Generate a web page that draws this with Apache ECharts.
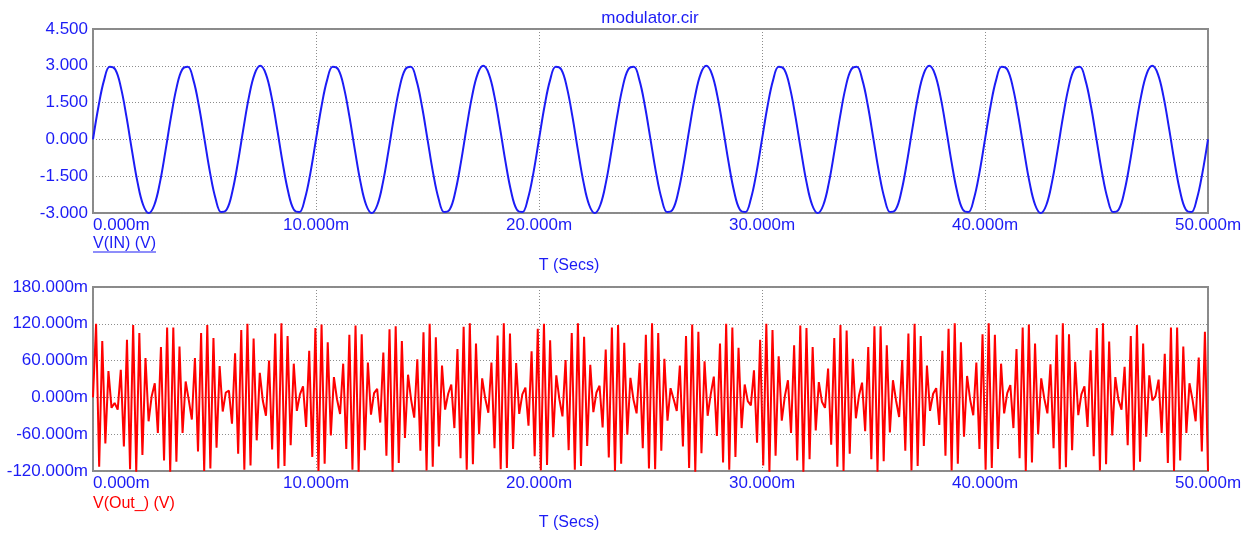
<!DOCTYPE html>
<html style="height: 100%">
<head>
    <meta charset="utf-8">
</head>
<body style="height: 100%; margin: 0; background: #fff">
    <div id="container" style="width: 1256px; height: 534px"></div>
    <script type="text/javascript" src="https://cdn.jsdelivr.net/npm/echarts@6/dist/echarts.min.js"></script>
    <script type="text/javascript">
// V(IN) sampled every 0.25 ms (volts)
var dtIn = 0.25;
var vIn = [
    0, 1.362, 2.427, 2.963, 2.853, 2.121, 0.927, -0.469, -1.763, -2.673, -3, -2.673, -1.763, -0.469, 0.927, 2.121, 2.853, 2.963, 2.427, 1.362,
    0, -1.362, -2.427, -2.963, -2.853, -2.121, -0.927, 0.469, 1.763, 2.673, 3, 2.673, 1.763, 0.469, -0.927, -2.121, -2.853, -2.963, -2.427, -1.362,
    0, 1.362, 2.427, 2.963, 2.853, 2.121, 0.927, -0.469, -1.763, -2.673, -3, -2.673, -1.763, -0.469, 0.927, 2.121, 2.853, 2.963, 2.427, 1.362,
    0, -1.362, -2.427, -2.963, -2.853, -2.121, -0.927, 0.469, 1.763, 2.673, 3, 2.673, 1.763, 0.469, -0.927, -2.121, -2.853, -2.963, -2.427, -1.362,
    0, 1.362, 2.427, 2.963, 2.853, 2.121, 0.927, -0.469, -1.763, -2.673, -3, -2.673, -1.763, -0.469, 0.927, 2.121, 2.853, 2.963, 2.427, 1.362,
    0, -1.362, -2.427, -2.963, -2.853, -2.121, -0.927, 0.469, 1.763, 2.673, 3, 2.673, 1.763, 0.469, -0.927, -2.121, -2.853, -2.963, -2.427, -1.362,
    0, 1.362, 2.427, 2.963, 2.853, 2.121, 0.927, -0.469, -1.763, -2.673, -3, -2.673, -1.763, -0.469, 0.927, 2.121, 2.853, 2.963, 2.427, 1.362,
    0, -1.362, -2.427, -2.963, -2.853, -2.121, -0.927, 0.469, 1.763, 2.673, 3, 2.673, 1.763, 0.469, -0.927, -2.121, -2.853, -2.963, -2.427, -1.362,
    0, 1.362, 2.427, 2.963, 2.853, 2.121, 0.927, -0.469, -1.763, -2.673, -3, -2.673, -1.763, -0.469, 0.927, 2.121, 2.853, 2.963, 2.427, 1.362,
    0, -1.362, -2.427, -2.963, -2.853, -2.121, -0.927, 0.469, 1.763, 2.673, 3, 2.673, 1.763, 0.469, -0.927, -2.121, -2.853, -2.963, -2.427, -1.362,
    0
];

// V(Out_) sampled every 50/361 ms (millivolts)
var dtOut = 50 / 361;
var vOut = [
    0, 120, -113, 92, -75, 43, -17, -9,
    -20, 45, -80, 94, -117, 118, -121, 105, -94, 64, -39, 2,
    23, -58, 82, -103, 114, -121, 114, -105, 83, -58, 26, -4,
    -36, 64, -88, 105, -120, 118, -116, 97, -82, 51, -23, 8,
    11, -43, 72, -92, 110, -118, 120, -111, 96, -70, 40, -6,
    -30, 60, -85, 104, -116, 121, -112, 100, -78, 55, -22, 5,
    18, -48, 76, -97, 113, -120, 119, -108, 90, -62, 33, -3,
    -27, 55, -84, 102, -118, 117, -121, 103, -86, 57, -28, 7,
    14, -41, 73, -95, 111, -121, 116, -107, 92, -66, 37, -4,
    -33, 62, -87, 106, -119, 120, -113, 98, -80, 52, -20, 6,
    21, -50, 79, -99, 115, -118, 121, -109, 88, -60, 31, -2,
    -25, 57, -83, 101, -117, 121, -115, 104, -84, 56, -27, 5,
    16, -46, 75, -96, 112, -119, 120, -110, 93, -65, 36, -3,
    -31, 61, -86, 105, -118, 121, -112, 99, -79, 53, -24, 8,
    19, -49, 78, -98, 114, -120, 118, -108, 89, -61, 32, -4,
    -26, 56, -83, 102, -116, 121, -117, 105, -87, 63, -38, 15, -3,
    -22, 52, -80, 100, -115, 119, -121, 107, -91, 59, -30, 5,
    34, -63, 88, -106, 120, -118, 114, -97, 81, -50, 21, -6,
    -13, 44, -74, 94, -111, 120, -121, 110, -95, 67, -38, 2,
    28, -58, 85, -103, 117, -121, 113, -101, 82, -54, 25, -7,
    -17, 47, -77, 97, -113, 118, -120, 109, -92, 63, -34, 3,
    24, -55, 82, -101, 116, -121, 116, -104, 85, -57, 28, -5,
    -32, 61, -87, 104, -119, 120, -112, 100, -79, 52, -22, 6,
    15, -45, 76, -95, 112, -119, 121, -108, 90, -64, 35, -4,
    -29, 57, -84, 103, -118, 121, -115, 102, -84, 55, -26, 7,
    20, -50, 79, -99, 114, -120, 119, -106, 88, -60, 31, -2,
    -26, 54, -83, 102, -117, 121, -114, 103, -86, 58, -29, 5,
    18, -48, 77, -96, 113, -119, 121, -109, 91, -62, 33, -4,
    -20, 50, -78, 100, -119, 118, -105, 88, -64, 36, -5, 2,
    29, -58, 71, -107, 114, -120, 114, -103, 83, -58, 23, -4,
    -39, 65, -88, 107, -120
];

var timeTicks = [0, 50, 10];      // min, max, interval (ms)
var inTicks = [-3, 4.5, 1.5];     // volts
var outTicks = [-120, 180, 60];   // millivolts

var blue = '#1c1cf5';
var red = '#ff0000';
var font = 'Liberation Sans, Arial, sans-serif';

function pairs(vals, dt) {
    var res = [];
    for (var i = 0; i < vals.length; i++) {
        res.push([i * dt, vals[i]]);
    }
    return res;
}

function timeAxis(gi) {
    return {
        type: 'value', gridIndex: gi,
        min: timeTicks[0], max: timeTicks[1], interval: timeTicks[2],
        axisLine: { show: false },
        axisTick: { show: false },
        axisLabel: {
            color: blue, fontFamily: font, fontSize: 17, margin: 4,
            alignMinLabel: 'left', alignMaxLabel: 'center',
            formatter: function (v) { return v.toFixed(3) + 'm'; }
        },
        splitLine: { show: true, lineStyle: { color: '#8c8c8c', type: [1, 2], width: 1 } }
    };
}

function valAxis(gi, t, suffix) {
    return {
        type: 'value', gridIndex: gi,
        min: t[0], max: t[1], interval: t[2],
        axisLine: { show: false },
        axisTick: { show: false },
        axisLabel: {
            color: blue, fontFamily: font, fontSize: 17, margin: 5,
            formatter: function (v) { return v.toFixed(3) + suffix; }
        },
        splitLine: { show: true, lineStyle: { color: '#8c8c8c', type: [1, 2], width: 1 } }
    };
}

var dom = document.getElementById("container");
var myChart = echarts.init(dom);
var option = {
    backgroundColor: '#fff',
    animation: false,
    grid: [
        { left: 93, right: 48, top: 29, height: 184, show: true, borderColor: '#8a8a8a', borderWidth: 2, backgroundColor: 'transparent' },
        { left: 93, right: 48, top: 287, height: 184, show: true, borderColor: '#8a8a8a', borderWidth: 2, backgroundColor: 'transparent' }
    ],
    xAxis: [timeAxis(0), timeAxis(1)],
    yAxis: [valAxis(0, inTicks, ''), valAxis(1, outTicks, 'm')],
    graphic: [
        { type: 'text', x: 650, y: 18, style: { text: 'modulator.cir', fill: blue, font: '17px ' + font, align: 'center', verticalAlign: 'middle' } },
        { type: 'text', x: 93, y: 244, style: { text: 'V(IN) (V)', fill: blue, font: '16px ' + font, verticalAlign: 'middle' } },
        { type: 'line', shape: { x1: 93, y1: 252, x2: 156, y2: 252 }, style: { stroke: blue, lineWidth: 1 } },
        { type: 'text', x: 569, y: 266, style: { text: 'T (Secs)', fill: blue, font: '16px ' + font, align: 'center', verticalAlign: 'middle' } },
        { type: 'text', x: 93, y: 504, style: { text: 'V(Out_) (V)', fill: red, font: '16px ' + font, verticalAlign: 'middle' } },
        { type: 'text', x: 569, y: 523, style: { text: 'T (Secs)', fill: blue, font: '16px ' + font, align: 'center', verticalAlign: 'middle' } }
    ],
    series: [
        {
            name: 'V(IN)', type: 'line', xAxisIndex: 0, yAxisIndex: 0,
            data: pairs(vIn, dtIn), showSymbol: false, symbol: 'none', smooth: 0.4,
            lineStyle: { color: blue, width: 2 }
        },
        {
            name: 'V(Out_)', type: 'line', xAxisIndex: 1, yAxisIndex: 1,
            data: pairs(vOut, dtOut), showSymbol: false, symbol: 'none',
            lineStyle: { color: red, width: 2 }
        }
    ]
};
myChart.setOption(option);
</script>
</body>
</html>
